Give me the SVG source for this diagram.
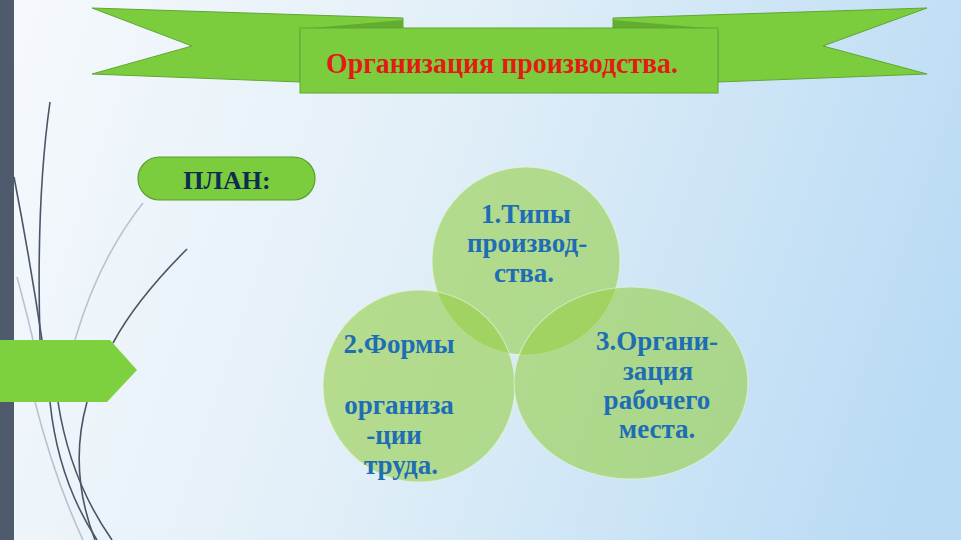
<svg xmlns="http://www.w3.org/2000/svg" width="961" height="540" viewBox="0 0 961 540">
<defs>
<linearGradient id="bg" x1="0" y1="0" x2="961" y2="320" gradientUnits="userSpaceOnUse">
<stop offset="0" stop-color="#f6f9fc"/>
<stop offset="0.45" stop-color="#e2eff8"/>
<stop offset="1" stop-color="#b9dbf4"/>
</linearGradient>
<style>
.rib{fill:#7ccd3e;stroke:#5fa632;stroke-width:1}
.fold{fill:#62ad2f}
.circ{fill:rgb(150,207,70);fill-opacity:0.6;stroke:#eaf6e0;stroke-opacity:0.6;stroke-width:1.2}
.ct{font-family:"Liberation Serif","Times New Roman",serif;font-weight:bold;font-size:27px;fill:#1e6db5;text-anchor:middle}
.dk{fill:none;stroke:#4a5566;stroke-width:1.6}
.lt{fill:none;stroke:#b9c3cf;stroke-width:1.6}
</style>
</defs>
<rect width="961" height="540" fill="url(#bg)"/>

<g id="decor">
<rect x="0" y="0" width="14" height="540" fill="#4f5b6d"/>
<path class="lt" d="M17,277 Q26,310 33,340"/>
<path class="dk" d="M50,102 Q36,200 40,340"/>
<path class="dk" d="M14,177 Q30,260 42,340"/>
<path class="lt" d="M143,203 Q98,260 75,340"/>
<path class="dk" d="M187,249 Q136,300 113,343"/>
<path class="lt" d="M35,402 Q55,480 83,540"/>
<path class="dk" d="M50,402 Q58,480 97,540"/>
<path class="dk" d="M58,402 Q70,480 112,540"/>
<path class="dk" d="M87,402 Q68,470 95,540"/>
<polygon points="0,340 110,340 137,370 107,402 0,402" fill="#7dd13f"/>
</g>

<g id="banner">
<polygon class="rib" points="92,8 403,18 403,30 300,30 300,82 92,74 192,46"/>
<polygon class="rib" points="927,8 613,18 613,30 718,30 718,82 927,74 823,46"/>
<polygon class="fold" points="300,29 403,20 403,30"/>
<polygon class="fold" points="613,20 613,30 718,29"/>
<rect class="rib" x="300" y="28" width="418" height="65"/>
<text x="502" y="73" font-family="Liberation Serif,'Times New Roman',serif" font-weight="bold" font-size="30" fill="#e21b17" text-anchor="middle" textLength="352" lengthAdjust="spacingAndGlyphs">Организация производства.</text>
</g>

<g id="plan">
<rect x="138" y="157" width="177" height="43" rx="21.5" fill="#7ccd3e" stroke="#5a9e2c" stroke-width="1.2"/>
<text x="227" y="189" font-family="Liberation Serif,'Times New Roman',serif" font-weight="bold" font-size="26" fill="#0e2c50" text-anchor="middle">ПЛАН:</text>
</g>

<g id="c1">
<circle class="circ" cx="526" cy="261" r="94"/>
</g>
<g id="c2">
<circle class="circ" cx="419" cy="386" r="96"/>
</g>
<g id="c3">
<ellipse class="circ" cx="631" cy="383" rx="117" ry="96"/>
</g>

<g id="c1-text">
<text class="ct" x="526" y="223">1.Типы</text>
<text class="ct" x="527" y="252">производ-</text>
<text class="ct" x="524" y="282">ства.</text>
</g>
<g id="c2-text">
<text class="ct" x="399" y="353">2.Формы</text>
<text class="ct" x="399" y="414">организа</text>
<text class="ct" x="394" y="444">-ции</text>
<text class="ct" x="401" y="474">труда.</text>
</g>
<g id="c3-text">
<text class="ct" x="657" y="350">3.Органи-</text>
<text class="ct" x="658" y="380">зация</text>
<text class="ct" x="657" y="409">рабочего</text>
<text class="ct" x="657" y="438">места.</text>
</g>

<g id="connectors"/>
</svg>
